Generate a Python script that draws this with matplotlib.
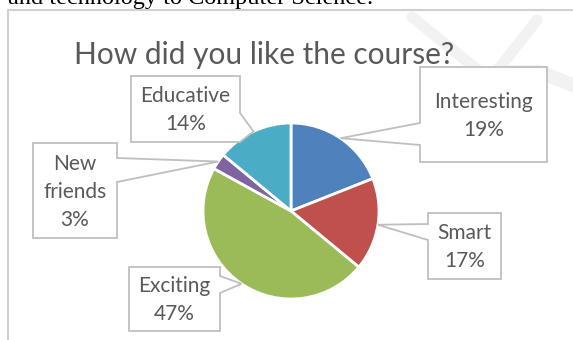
import numpy as np
import matplotlib
matplotlib.use('Agg')
import matplotlib.pyplot as plt
from matplotlib.patches import Polygon

# dados do grafico
labels = ['Interesting', 'Smart', 'Exciting', 'New\nfriends', 'Educative']
values = [19, 17, 47, 3, 14]
colors = ['#4F81BD', '#C0504D', '#9BBB59', '#8064A2', '#4BACC6']
title = 'How did you like the course?'

W, H = 573, 340
fig = plt.figure(figsize=(W / 100, H / 100), dpi=100)
ax = fig.add_axes([0, 0, 1, 1])


def Y(y):
    # coordenada de pixel (topo) -> coordenada do eixo
    return H - y


# pizza
cx, cy, r = 291, 211, 88
wedges, _ = ax.pie(values, colors=colors, startangle=90, counterclock=False,
                   center=(cx, Y(cy)), radius=r,
                   wedgeprops=dict(edgecolor='white', linewidth=2))
for w in wedges:
    w.set_zorder(3)

# caixas das legendas: (x0, y0, x1, y1), lado do ponteiro, base do ponteiro
boxes = [
    ((420, 67, 547, 162), 'left', (123, 145)),
    ((428, 213, 501, 279), 'left', (224, 240)),
    ((129, 267, 220, 331), 'right', (276, 293)),
    ((33, 143, 117, 238), 'right', (158, 182)),
    ((131, 76, 240, 142), 'right', (113, 142)),
]

total = sum(values)
start = 90.0
for lab, v, (box, side, base) in zip(labels, values, boxes):
    ang = np.deg2rad(start - v / total * 360 / 2)
    start -= v / total * 360
    tip = (cx + r * np.cos(ang), Y(cy) + r * np.sin(ang))
    x0, y0, x1, y1 = box
    b0, b1 = base
    if side == 'left':
        pts = [(x0, Y(y0)), (x1, Y(y0)), (x1, Y(y1)), (x0, Y(y1)),
               (x0, Y(b1)), tip, (x0, Y(b0))]
    else:
        pts = [(x0, Y(y0)), (x1, Y(y0)), (x1, Y(b0)), tip,
               (x1, Y(b1)), (x1, Y(y1)), (x0, Y(y1))]
    ax.add_patch(Polygon(pts, closed=True, facecolor='white',
                         edgecolor='#BFBFBF', linewidth=1.3, zorder=4,
                         joinstyle='miter'))
    ax.text((x0 + x1) / 2, Y((y0 + y1) / 2 + 1), f'{lab}\n{v}%',
            ha='center', va='center', fontsize=15, color='#595959',
            family='Lato', linespacing=1.5, zorder=5)

# titulo
ax.text(264, Y(64), title, ha='center', va='baseline', fontsize=21.5,
        color='#595959', family='Lato', zorder=5)

# moldura do grafico e texto do documento
ax.plot([8, 8, W + 5], [Y(H + 5), Y(10), Y(10)], color='#D0D0D0', lw=1.5, zorder=1)
ax.text(8, Y(4), 'and technology to Computer Science.', ha='left', va='baseline',
        fontsize=17.5, family='Liberation Serif', color='black', zorder=5)

# marca d'agua (bem clara)
wm = '#F2F2F2'
ax.plot([412, 490], [Y(17), Y(80)], color=wm, lw=8, solid_capstyle='round', zorder=0)
ax.plot([490, 537], [Y(80), Y(20)], color=wm, lw=8, solid_capstyle='round', zorder=0)
ax.plot([500, 540, 573], [Y(72), Y(72), Y(85)], color=wm, lw=10, zorder=0)

ax.set_xlim(0, W)
ax.set_ylim(0, H)
ax.set_aspect('equal')
ax.axis('off')

fig.savefig('out.png', dpi=100, facecolor='white')
